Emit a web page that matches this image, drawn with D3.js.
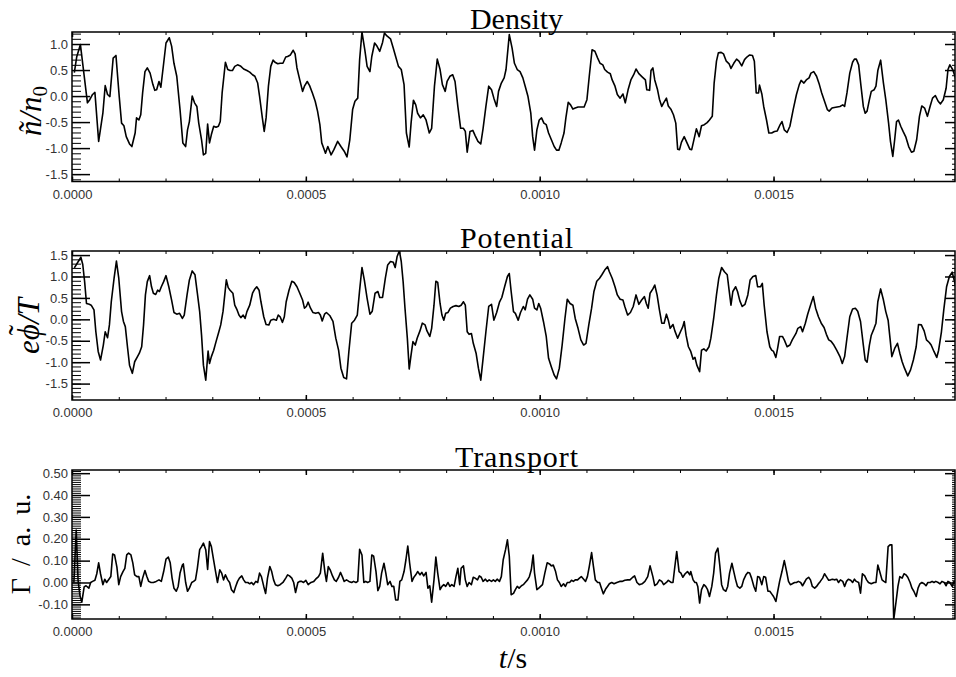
<!DOCTYPE html>
<html>
<head>
<meta charset="utf-8">
<script src="https://cdn.jsdelivr.net/npm/d3@7"></script>
<style>
body { margin: 0; background: #fff; }
</style>
</head>
<body>
<svg id="chart" width="956" height="677"></svg>
<script>
// time in microseconds, value
const density = [[5,0.45],[10,0.75],[18,0.99],[33,-0.13],[38,-0.07],[44,0.03],[49,0.07],[57,-0.87],[66,-0.33],[71,0.2],[76,0.03],[81,-0.01],[88,0.73],[94,0.78],[101,-0.01],[106,-0.52],[111,-0.57],[116,-0.78],[123,-0.92],[128,-0.97],[135,-0.71],[138,-0.42],[143,-0.46],[147,-0.36],[151,0.06],[156,0.47],[161,0.54],[167,0.44],[173,0.22],[177,0.11],[181,0.12],[186,0.28],[190,0.17],[196,0.63],[201,1.02],[208,1.12],[213,0.96],[218,0.63],[224,0.38],[231,-0.26],[237,-0.9],[243,-0.97],[247,-0.65],[251,-0.49],[257,0.0],[262,-0.13],[267,-0.2],[271,-0.52],[277,-0.84],[281,-1.13],[286,-1.1],[290,-0.54],[294,-0.9],[298,-0.74],[303,-0.58],[308,-0.6],[313,-0.58],[317,-0.49],[321,0.06],[328,0.65],[333,0.51],[338,0.49],[343,0.49],[348,0.57],[354,0.6],[360,0.58],[367,0.52],[374,0.49],[380,0.46],[386,0.41],[391,0.38],[397,0.25],[401,0.0],[407,-0.42],[411,-0.68],[415,-0.42],[420,0.19],[425,0.57],[430,0.69],[434,0.65],[440,0.62],[445,0.63],[451,0.63],[457,0.75],[461,0.76],[467,0.79],[473,0.88],[477,0.81],[481,0.54],[487,0.31],[493,0.09],[497,0.19],[503,0.28],[508,0.2],[514,0.06],[520,-0.1],[525,-0.29],[530,-0.55],[534,-0.9],[538,-1.0],[542,-1.1],[547,-0.97],[551,-1.06],[554,-1.13],[560,-1.03],[568,-0.87],[575,-0.97],[582,-1.06],[588,-1.17],[594,-0.84],[600,-0.26],[605,-0.1],[611,-0.04],[615,0.7],[620,1.23],[626,0.89],[631,0.57],[637,0.47],[641,0.76],[647,1.02],[652,0.96],[658,0.86],[664,1.03],[668,1.21],[674,1.15],[681,1.1],[687,0.92],[692,0.76],[698,0.57],[704,0.51],[710,0.22],[715,-0.71],[721,-0.98],[725,-0.52],[730,-0.08],[735,-0.17],[739,-0.33],[745,-0.42],[751,-0.36],[757,-0.46],[764,-0.71],[769,-0.62],[775,0.19],[781,0.71],[787,0.51],[792,0.22],[798,0.09],[802,0.28],[808,0.38],[814,0.41],[819,0.28],[825,-0.2],[831,-0.62],[837,-0.62],[841,-0.68],[845,-1.08],[851,-0.68],[857,-0.66],[862,-0.76],[868,-0.87],[874,-0.92],[879,-0.62],[885,-0.2],[891,0.19],[897,0.12],[902,-0.04],[908,-0.2],[912,0.09],[918,0.25],[924,0.35],[928,0.51],[935,1.18],[941,0.92],[946,0.63],[952,0.51],[958,0.47],[964,0.35],[969,0.19],[975,-0.01],[981,-0.33],[985,-0.78],[989,-1.04],[994,-0.65],[999,-0.46],[1004,-0.42],[1009,-0.52],[1014,-0.55],[1019,-0.71],[1025,-0.84],[1031,-0.97],[1036,-1.04],[1041,-1.04],[1046,-0.9],[1052,-0.71],[1056,-0.42],[1061,-0.12],[1066,-0.17],[1071,-0.25],[1076,-0.23],[1082,-0.21],[1088,-0.21],[1095,-0.21],[1101,-0.07],[1106,0.38],[1112,0.89],[1118,0.86],[1124,0.73],[1129,0.63],[1135,0.6],[1139,0.51],[1145,0.46],[1151,0.43],[1155,0.31],[1161,0.19],[1166,0.03],[1172,-0.04],[1178,0.04],[1183,-0.13],[1189,0.12],[1195,0.31],[1201,0.41],[1206,0.52],[1212,0.43],[1219,0.37],[1226,0.31],[1229,0.12],[1235,0.11],[1238,0.49],[1242,0.54],[1246,0.31],[1252,0.12],[1256,-0.06],[1261,-0.2],[1265,-0.13],[1271,-0.04],[1275,-0.19],[1281,-0.26],[1286,-0.36],[1291,-0.52],[1295,-1.02],[1299,-1.03],[1303,-0.89],[1309,-0.78],[1315,-0.9],[1321,-1.02],[1325,-1.03],[1329,-0.87],[1335,-0.63],[1341,-0.78],[1346,-0.57],[1352,-0.55],[1358,-0.51],[1363,-0.46],[1369,-0.39],[1373,0.25],[1378,0.67],[1382,0.83],[1388,0.84],[1393,0.81],[1399,0.67],[1405,0.62],[1409,0.53],[1415,0.63],[1421,0.71],[1426,0.67],[1432,0.58],[1438,0.7],[1443,0.75],[1449,0.79],[1455,0.78],[1459,0.67],[1463,0.06],[1468,0.06],[1470,0.21],[1475,0.04],[1479,-0.2],[1485,-0.46],[1490,-0.71],[1496,-0.71],[1502,-0.68],[1508,-0.67],[1513,-0.57],[1518,-0.49],[1523,-0.65],[1529,-0.7],[1535,-0.58],[1542,-0.26],[1549,0.03],[1555,0.22],[1559,0.3],[1565,0.25],[1570,0.31],[1576,0.35],[1580,0.44],[1586,0.47],[1592,0.38],[1598,0.22],[1603,0.06],[1609,-0.1],[1615,-0.26],[1619,-0.29],[1625,-0.23],[1630,-0.22],[1636,-0.21],[1642,-0.2],[1648,-0.17],[1652,-0.2],[1657,0.06],[1663,0.44],[1669,0.65],[1673,0.71],[1677,0.71],[1682,0.6],[1687,0.19],[1692,-0.2],[1696,-0.33],[1700,-0.29],[1705,-0.07],[1709,0.09],[1715,0.12],[1719,0.19],[1723,0.49],[1729,0.69],[1735,0.25],[1740,-0.07],[1746,-0.52],[1750,-0.87],[1755,-1.16],[1759,-0.84],[1763,-0.49],[1767,-0.46],[1772,-0.58],[1777,-0.68],[1783,-0.79],[1789,-0.97],[1795,-1.08],[1800,-1.06],[1806,-0.84],[1812,-0.39],[1817,-0.19],[1823,-0.23],[1829,-0.39],[1835,-0.19],[1840,-0.04],[1846,0.01],[1852,-0.1],[1857,-0.15],[1863,-0.07],[1869,0.15],[1873,0.51],[1877,0.6],[1883,0.51],[1889,0.35],[1893,0.15]];

const potential = [[5,1.2],[19,1.45],[23,1.28],[27,0.88],[31,0.37],[37,0.35],[41,0.33],[47,0.22],[51,-0.29],[56,-0.75],[61,-0.95],[67,-0.6],[71,-0.29],[76,-0.43],[80,-0.13],[84,0.41],[90,0.96],[95,1.36],[100,0.96],[106,0.18],[110,-0.05],[114,-0.17],[119,-0.68],[123,-1.07],[129,-1.26],[134,-0.99],[140,-0.87],[144,-0.79],[149,-0.64],[153,-0.13],[157,0.57],[161,0.88],[166,1.02],[170,0.76],[174,0.61],[179,0.58],[183,0.68],[187,0.65],[191,0.76],[196,0.88],[201,1.02],[207,0.76],[213,0.45],[218,0.16],[224,0.12],[230,0.14],[236,0.02],[240,0.1],[246,0.57],[251,0.92],[257,1.13],[263,1.04],[268,0.61],[273,0.18],[277,-0.37],[281,-1.07],[286,-1.42],[291,-0.74],[294,-1.03],[298,-0.87],[303,-0.72],[308,-0.52],[314,-0.29],[318,-0.13],[323,0.19],[330,0.92],[334,0.74],[338,0.68],[344,0.61],[348,0.33],[353,0.22],[357,0.1],[361,0.04],[366,0.1],[370,0.02],[374,0.18],[380,0.33],[386,0.61],[391,0.71],[395,0.76],[400,0.68],[404,0.41],[410,0.06],[415,-0.12],[421,-0.13],[425,-0.02],[431,0],[437,-0.02],[441,0.1],[445,0.06],[450,-0.07],[454,0.06],[458,0.41],[464,0.68],[470,0.89],[475,0.86],[481,0.76],[487,0.61],[493,0.45],[497,0.26],[501,0.3],[505,0.4],[510,0.26],[515,0.16],[521,0.14],[527,0.16],[531,0.1],[535,-0.04],[540,0.12],[544,0.16],[551,0.09],[558,-0.05],[564,-0.44],[570,-0.72],[575,-1.14],[581,-1.36],[587,-1.39],[592,-0.75],[598,-0.09],[604,-0.02],[610,0.1],[615,0.68],[620,1.21],[625,0.92],[631,0.49],[637,0.12],[642,0.19],[648,0.61],[654,0.65],[658,0.51],[664,0.51],[670,0.96],[675,1.27],[681,1.35],[687,1.33],[691,1.21],[695,1.46],[700,1.6],[704,1.35],[708,0.88],[712,0.26],[717,-0.44],[721,-1.16],[725,-0.83],[729,-0.52],[734,-0.6],[738,-0.44],[744,-0.27],[749,-0.09],[755,-0.13],[759,-0.27],[765,-0.4],[769,-0.21],[774,0.33],[778,0.89],[782,0.86],[787,0.37],[791,0.1],[795,-0.02],[799,0.14],[804,0.16],[809,0.26],[815,0.3],[821,0.32],[827,0.3],[832,0.33],[837,0.41],[841,0.33],[845,-0.29],[849,-0.35],[854,-0.33],[858,-0.56],[864,-0.79],[869,-1.14],[874,-1.42],[879,-0.91],[885,-0.29],[891,0.3],[897,0.35],[902,-0.02],[908,0.16],[914,0.4],[919,0.51],[925,0.76],[931,1.0],[935,1.07],[939,0.65],[944,0.18],[948,0.14],[954,-0.02],[959,0.16],[965,0.3],[969,0.22],[974,0.47],[979,0.57],[985,0.47],[989,0.26],[994,0.22],[998,0.37],[1002,0.26],[1008,-0.05],[1014,-0.4],[1019,-0.91],[1025,-1.11],[1031,-1.3],[1036,-1.39],[1042,-1.14],[1048,-0.6],[1054,0.02],[1059,0.47],[1065,0.37],[1071,0.33],[1076,0.02],[1082,-0.21],[1088,-0.48],[1094,-0.6],[1099,-0.56],[1105,-0.13],[1111,0.26],[1116,0.65],[1122,0.89],[1128,0.96],[1133,1.04],[1139,1.15],[1145,1.23],[1149,1.11],[1155,0.96],[1161,0.76],[1166,0.57],[1172,0.47],[1178,0.45],[1182,0.3],[1188,0.1],[1194,0.16],[1200,0.3],[1206,0.57],[1212,0.35],[1218,0.45],[1224,0.53],[1228,0.37],[1232,0.26],[1236,0.61],[1242,0.71],[1246,0.8],[1251,0.57],[1256,0.22],[1261,-0.09],[1266,-0.09],[1271,0.12],[1275,-0.02],[1279,-0.21],[1285,-0.12],[1289,-0.27],[1295,-0.44],[1301,-0.29],[1306,-0.17],[1309,-0.05],[1313,-0.37],[1318,-0.64],[1323,-0.75],[1328,-0.93],[1332,-0.89],[1336,-1.07],[1342,-1.22],[1346,-0.72],[1351,-0.69],[1356,-0.74],[1362,-0.64],[1366,-0.44],[1372,0.02],[1378,0.57],[1383,0.96],[1389,1.21],[1395,1.11],[1401,1.04],[1405,0.68],[1409,0.33],[1413,0.65],[1419,0.76],[1423,0.65],[1428,0.43],[1433,0.3],[1439,0.35],[1445,0.57],[1450,0.92],[1456,1.0],[1462,1.02],[1466,0.76],[1472,0.76],[1476,0.84],[1480,0.33],[1486,-0.29],[1492,-0.64],[1496,-0.72],[1500,-0.75],[1505,-0.89],[1509,-0.66],[1513,-0.4],[1519,-0.4],[1523,-0.48],[1529,-0.64],[1535,-0.6],[1540,-0.48],[1548,-0.33],[1552,-0.21],[1558,-0.17],[1562,-0.29],[1568,-0.09],[1573,0.12],[1579,0.33],[1585,0.53],[1590,0.26],[1596,0.06],[1602,-0.09],[1608,-0.19],[1613,-0.35],[1618,-0.48],[1623,-0.51],[1629,-0.6],[1635,-0.72],[1642,-0.87],[1647,-1.03],[1652,-0.87],[1657,-0.44],[1663,0.06],[1669,0.24],[1675,0.26],[1680,0.19],[1686,-0.05],[1692,-0.6],[1696,-0.95],[1700,-1.0],[1705,-0.6],[1709,-0.37],[1715,-0.21],[1719,-0.09],[1723,0.41],[1729,0.71],[1735,0.45],[1740,0.18],[1745,-0.02],[1749,-0.44],[1753,-0.87],[1759,-0.68],[1765,-0.56],[1770,-0.79],[1775,-0.99],[1780,-1.14],[1787,-1.32],[1793,-1.18],[1799,-0.95],[1805,-0.64],[1810,-0.12],[1816,-0.13],[1822,-0.27],[1827,-0.48],[1833,-0.54],[1837,-0.6],[1843,-0.75],[1849,-0.89],[1853,-0.72],[1859,-0.29],[1864,0.22],[1870,0.76],[1876,1.0],[1882,1.1],[1887,0.88],[1893,0.61]];

const transport = [[4,0],[9,0.24],[13,0.01],[17,-0.06],[21,-0.09],[26,-0.02],[30,-0.015],[36,-0.026],[40,0],[44,0.005],[49,0.01],[53,0.04],[57,0.09],[61,0.04],[66,-0.01],[70,0.015],[74,0],[79,0.015],[83,0.027],[87,0.13],[91,0.126],[96,0.07],[100,-0.01],[104,0.027],[109,0.05],[113,0.065],[117,0.126],[121,0.134],[126,0.126],[130,0.09],[134,0.035],[139,0.027],[143,0.027],[147,-0.018],[151,0.02],[156,0.055],[160,0.027],[164,0.005],[169,0],[174,0],[180,0.005],[186,0.012],[191,0.005],[196,0.05],[201,0.107],[206,0.116],[210,0.09],[214,0.02],[218,-0.026],[223,-0.04],[227,-0.018],[231,0.043],[236,0.08],[238,0.085],[243,0],[247,-0.04],[251,-0.026],[256,0],[260,0.005],[264,0.012],[268,0.065],[273,0.15],[277,0.164],[281,0.18],[286,0.15],[290,0.06],[294,0.187],[298,0.164],[303,0.1],[307,0.05],[311,0],[316,0.058],[320,0.043],[324,0.012],[328,0.035],[333,0.012],[337,0],[341,-0.033],[346,-0.046],[350,-0.018],[354,0.005],[358,0.02],[363,0.03],[367,0.012],[371,0],[376,0],[380,-0.006],[384,0],[388,-0.01],[393,0.005],[397,0],[401,0.043],[405,0.027],[410,-0.018],[414,-0.05],[418,0.02],[423,0.073],[427,0.05],[431,0.012],[435,-0.01],[440,-0.015],[445,-0.01],[451,0],[457,0.02],[461,0.035],[465,0.03],[470,0.02],[474,0],[478,-0.046],[483,0],[487,0.005],[491,0.005],[495,0],[500,0.01],[505,-0.01],[511,0],[517,0.005],[521,0.015],[527,0.027],[531,0.043],[536,0.134],[541,0.043],[544,0.005],[548,0.073],[552,0.058],[557,0.03],[561,0.012],[565,0.005],[570,0.024],[574,0.046],[578,0.027],[582,0.005],[587,0.012],[592,0.005],[598,0],[602,0.005],[607,0],[611,0.005],[615,0.152],[620,0.126],[624,0],[628,0.005],[632,0],[637,0.005],[641,0.126],[645,0.12],[650,0.05],[654,-0.037],[658,-0.018],[662,0.043],[667,0.088],[671,0.043],[675,-0.01],[680,0.005],[684,-0.018],[688,-0.018],[692,-0.08],[697,-0.08],[701,0.005],[705,0.012],[710,0.05],[714,0.104],[718,0.167],[722,0.088],[727,0.005],[731,0.024],[735,0.035],[739,0.05],[744,0.035],[748,0.046],[752,0.03],[757,0.046],[761,-0.026],[765,-0.015],[769,-0.09],[774,0.012],[778,0.116],[782,0.043],[787,-0.033],[791,-0.018],[795,-0.01],[799,-0.018],[804,0],[808,-0.018],[812,-0.01],[817,-0.018],[821,0.027],[825,0.065],[829,-0.01],[832,0.065],[837,0.076],[841,0.012],[845,-0.018],[849,0],[854,-0.01],[858,0.024],[862,0.02],[867,0.012],[871,0.03],[875,0.024],[879,0.005],[884,0.015],[888,0.005],[892,0.012],[897,0.005],[901,0.012],[905,0.005],[909,0.015],[914,0.005],[918,0.027],[922,0.104],[927,0.15],[931,0.195],[935,0.12],[939,-0.056],[944,-0.05],[948,-0.033],[952,-0.018],[956,-0.026],[961,-0.015],[965,-0.01],[969,0],[974,0.012],[978,0.027],[982,0.058],[986,0.126],[989,0.043],[994,-0.033],[998,-0.026],[1002,-0.018],[1006,-0.01],[1011,0.043],[1016,0.09],[1021,0.085],[1025,0.076],[1029,0.08],[1034,0.05],[1038,0.012],[1042,0],[1046,-0.018],[1051,-0.006],[1055,-0.018],[1059,0],[1064,0],[1068,0.01],[1072,0.005],[1076,0.012],[1081,0.012],[1085,0.02],[1089,0.027],[1094,0.015],[1098,0.005],[1102,0.027],[1106,0.073],[1111,0.137],[1115,0.073],[1119,0.012],[1124,0],[1128,0],[1132,-0.026],[1136,-0.052],[1141,-0.03],[1145,-0.018],[1149,-0.006],[1154,0],[1159,-0.006],[1165,0],[1171,0.005],[1176,0.005],[1182,0.01],[1188,0.012],[1193,0.012],[1199,0.024],[1203,0.03],[1208,0],[1213,-0.01],[1219,-0.006],[1225,0.005],[1231,0.027],[1236,0.076],[1242,0.027],[1246,-0.014],[1251,-0.006],[1256,0.012],[1261,0.005],[1265,-0.01],[1271,0],[1275,0.01],[1281,0],[1285,0],[1289,0.073],[1293,0.142],[1298,0.05],[1302,0.043],[1306,0.024],[1311,0.04],[1316,0.05],[1321,0.035],[1323,0.05],[1328,0.012],[1332,0],[1335,0],[1338,-0.018],[1342,-0.094],[1346,-0.033],[1351,-0.01],[1355,-0.018],[1359,-0.033],[1363,-0.064],[1368,-0.018],[1372,0.043],[1376,0.134],[1381,0.157],[1385,0.08],[1389,-0.01],[1393,-0.033],[1398,-0.04],[1402,-0.018],[1406,0.043],[1411,0.088],[1415,0.05],[1419,0.012],[1423,-0.018],[1428,-0.026],[1432,-0.018],[1436,0.012],[1441,0.035],[1445,0.046],[1449,0.043],[1453,0.02],[1458,-0.018],[1462,-0.04],[1466,0.027],[1470,0.024],[1475,-0.01],[1479,0.027],[1483,0.024],[1488,-0.04],[1492,-0.04],[1496,-0.052],[1500,-0.064],[1505,-0.087],[1509,-0.04],[1513,0.005],[1518,0.05],[1523,0.1],[1528,0.05],[1532,0.005],[1536,-0.01],[1540,-0.006],[1545,0],[1549,0],[1553,0.005],[1558,0],[1562,-0.015],[1566,0],[1570,0.015],[1575,0.024],[1579,0.012],[1583,-0.018],[1588,-0.026],[1592,-0.018],[1596,-0.006],[1600,0.005],[1605,0.02],[1609,0.04],[1613,0.027],[1618,0.01],[1622,0.012],[1626,0.015],[1630,0.012],[1635,0.015],[1639,0],[1643,0.012],[1648,0.005],[1652,-0.018],[1656,0.005],[1660,0.015],[1665,0.01],[1669,0],[1673,0.015],[1677,0.005],[1682,0],[1686,-0.049],[1690,0.04],[1695,0.03],[1699,0.012],[1703,0],[1709,-0.006],[1715,0],[1719,0],[1723,0.08],[1727,0.05],[1732,0.012],[1736,0.005],[1740,0],[1745,0.164],[1749,0.172],[1753,0.172],[1757,-0.17],[1762,-0.087],[1766,-0.018],[1770,0.027],[1775,0.02],[1779,0.04],[1783,0.035],[1787,0.024],[1792,0],[1796,-0.026],[1800,-0.04],[1805,-0.064],[1809,-0.026],[1813,-0.006],[1817,0],[1822,-0.006],[1826,-0.015],[1830,0],[1835,0],[1839,0.005],[1843,0],[1847,0.005],[1852,0],[1856,-0.006],[1860,0.005],[1865,0],[1869,-0.015],[1873,0.005],[1877,0],[1882,-0.018],[1886,0.005],[1890,0]];

const titles = ["Density", "Potential", "Transport"];
const xTicks = [0, 0.0005, 0.001, 0.0015];
const densityTicks = [1.0, 0.5, 0.0, -0.5, -1.0, -1.5];
const potentialTicks = [1.5, 1.0, 0.5, 0.0, -0.5, -1.0, -1.5];
const transportTicks = [0.5, 0.4, 0.3, 0.2, 0.1, 0.0, -0.1];

const svg = d3.select("#chart");
const left = 72, right = 955;
const x = d3.scaleLinear().domain([0, 0.001888]).range([left, right]);
const xMinor = d3.range(0, 19).map(k => k * 0.0001);

const panels = [
  {title: titles[0], data: density, top: 32, bottom: 181.5, domain: [-1.642, 1.231],
   ticks: densityTicks, minor: d3.range(-16, 13).map(k => k / 10), dec: 1, titleW: 93},
  {title: titles[1], data: potential, top: 251, bottom: 400, domain: [-1.883, 1.595],
   ticks: potentialTicks, minor: d3.range(-18, 16).map(k => k / 10), dec: 1, titleW: 113},
  {title: titles[2], data: transport, top: 470, bottom: 619, domain: [-0.167, 0.5145],
   ticks: transportTicks, minor: d3.range(-16, 52).map(k => k / 100), dec: 2, titleW: 123}
];

function styleAxis(g, w) {
  g.select(".domain").remove();
  g.selectAll("line").attr("stroke", "#000").attr("stroke-width", w);
  g.selectAll("text").attr("font-family", "'Liberation Sans', Arial, sans-serif")
    .attr("font-size", 13).attr("fill", "#333");
}

panels.forEach((p, i) => {
  const y = d3.scaleLinear().domain(p.domain).range([p.bottom, p.top]);
  const g = svg.append("g");

  g.append("clipPath").attr("id", "clip" + i).append("rect")
    .attr("x", left).attr("y", p.top).attr("width", right - left).attr("height", p.bottom - p.top);

  // left axis: minor then major with labels
  g.append("g").attr("transform", `translate(${left},0)`)
    .call(d3.axisLeft(y).tickValues(p.minor).tickSize(-9).tickFormat(""))
    .call(a => styleAxis(a, 1));
  g.append("g").attr("transform", `translate(${left},0)`)
    .call(d3.axisLeft(y).tickValues(p.ticks).tickSize(-18).tickPadding(4)
      .tickFormat(d => d.toFixed(p.dec)))
    .call(a => styleAxis(a, 1.5));

  // right axis
  g.append("g").attr("transform", `translate(${right},0)`)
    .call(d3.axisRight(y).tickValues(p.minor).tickSize(-3).tickFormat(""))
    .call(a => styleAxis(a, 1));
  g.append("g").attr("transform", `translate(${right},0)`)
    .call(d3.axisRight(y).tickValues(p.ticks).tickSize(-10).tickFormat(""))
    .call(a => styleAxis(a, 1.5));

  // bottom axis
  g.append("g").attr("transform", `translate(0,${p.bottom})`)
    .call(d3.axisBottom(x).tickValues(xMinor).tickSize(-3).tickFormat(""))
    .call(a => styleAxis(a, 1));
  g.append("g").attr("transform", `translate(0,${p.bottom})`)
    .call(d3.axisBottom(x).tickValues(xTicks).tickSize(-5).tickPadding(8)
      .tickFormat(d => d.toFixed(4)))
    .call(a => styleAxis(a, 1.5));

  // top axis
  g.append("g").attr("transform", `translate(0,${p.top})`)
    .call(d3.axisTop(x).tickValues(xMinor).tickSize(-3).tickFormat(""))
    .call(a => styleAxis(a, 1));
  g.append("g").attr("transform", `translate(0,${p.top})`)
    .call(d3.axisTop(x).tickValues(xTicks).tickSize(-5).tickFormat(""))
    .call(a => styleAxis(a, 1.5));

  // frame
  g.append("rect").attr("x", left).attr("y", p.top)
    .attr("width", right - left).attr("height", p.bottom - p.top)
    .attr("fill", "none").attr("stroke", "#000").attr("stroke-width", 1.5);

  // curve
  const line = d3.line().x(d => x(d[0] * 1e-6)).y(d => y(d[1]));
  g.append("path").datum(p.data)
    .attr("clip-path", `url(#clip${i})`)
    .attr("d", line)
    .attr("fill", "none").attr("stroke", "#000")
    .attr("stroke-width", 1.6).attr("stroke-linejoin", "round");

  // title
  g.append("text").attr("x", 516.5).attr("y", p.top - 3.5)
    .attr("text-anchor", "middle")
    .attr("font-family", "'Liberation Serif', 'Times New Roman', serif")
    .attr("font-size", 30)
    .attr("textLength", p.titleW).attr("lengthAdjust", "spacing")
    .text(p.title);
});

const serif = "'Liberation Serif', 'DejaVu Serif', serif";

// y labels
const l1 = svg.append("text").attr("transform", "translate(41,111) rotate(-90)")
  .attr("text-anchor", "middle").attr("font-family", serif).attr("font-size", 31);
l1.append("tspan").attr("font-style", "italic").text("ñ/n");
l1.append("tspan").attr("font-size", 21).attr("dy", 6).text("0");

// e phi-tilde / T, tilde placed by hand over the phi
const l2 = svg.append("text").attr("transform", "translate(39,326) rotate(-90)")
  .attr("text-anchor", "middle").attr("font-family", serif).attr("font-size", 31)
  .attr("font-style", "italic");
l2.append("tspan").text("e\u03D5");
l2.append("tspan").attr("dx", -11).attr("dy", -9).attr("font-style", "normal").text("\u02DC");
l2.append("tspan").attr("dx", 1).attr("dy", 9).text("/T");

svg.append("text").attr("transform", "translate(30,544) rotate(-90)")
  .attr("text-anchor", "middle").attr("font-family", serif).attr("font-size", 28)
  .attr("word-spacing", 5)
  .text("Γ / a. u.");

// x label
const xl = svg.append("text").attr("x", 513).attr("y", 668)
  .attr("text-anchor", "middle").attr("font-family", serif).attr("font-size", 30);
xl.append("tspan").attr("font-style", "italic").text("t");
xl.append("tspan").text("/s");
</script>
</body>
</html>
